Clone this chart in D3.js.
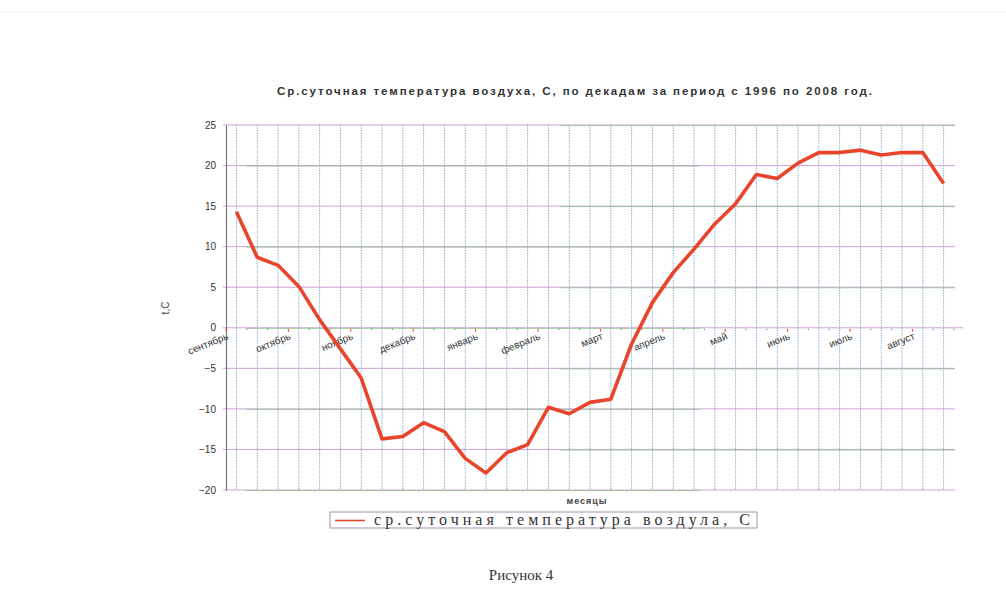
<!DOCTYPE html>
<html>
<head>
<meta charset="utf-8">
<script src="https://cdn.jsdelivr.net/npm/d3@7"></script>
<style>
  html, body { margin: 0; padding: 0; background: #ffffff; }
  svg { display: block; }
</style>
</head>
<body>
<svg id="chart" width="1006" height="599"></svg>
<script>
// ---- data ----
const months = ["сентябрь","октябрь","ноябрь","декабрь","январь","февраль","март","апрель","май","июнь","июль","август"];
const temps = [14.3, 8.7, 7.7, 5.1, 1.0, -2.6, -6.2, -13.7, -13.4, -11.7, -12.8, -16.1, -17.9, -15.4, -14.4, -9.8, -10.6, -9.2, -8.8, -2.0, 3.1, 6.8, 9.7, 12.8, 15.3, 18.9, 18.4, 20.3, 21.6, 21.6, 21.9, 21.3, 21.6, 21.6, 17.8];
const yTicks = [25, 20, 15, 10, 5, 0, -5, -10, -15, -20];
const titleText = "Ср.суточная температура воздуха,  С, по декадам за период с 1996 по 2008 год.";
const legendText = "ср.суточная температура воздула,  С";
const xTitle = "месяцы";
const yTitle = "t,C";
const caption = "Рисунок 4";

// ---- layout ----
const svg = d3.select("#chart");
const pLeft = 226, pRight = 954, pTop = 125, pBottom = 490;
const idx = d3.range(temps.length);
const x = d3.scaleBand().domain(idx).range([pLeft, pRight]);
const xc = i => x(i) + x.bandwidth() / 2;
const y = d3.scaleLinear().domain([-20, 25]).range([pBottom, pTop]);

// faint page edge from the scan
svg.append("line").attr("x1", 0).attr("x2", 1006).attr("y1", 12).attr("y2", 12)
  .attr("stroke", "#ececec").attr("stroke-width", 1);

// title
svg.append("text").attr("x", 277).attr("y", 95)
  .attr("textLength", 595).attr("lengthAdjust", "spacing")
  .attr("font-family", "Liberation Sans, Arial, sans-serif")
  .attr("font-size", 11.5).attr("font-weight", "bold").attr("fill", "#333")
  .text(titleText);

// vertical dotted gridlines at category centres
svg.append("g").selectAll("line").data(idx).join("line")
  .attr("x1", d => xc(d)).attr("x2", d => xc(d))
  .attr("y1", pTop).attr("y2", pBottom)
  .attr("stroke", "#8db6d6").attr("stroke-width", 1)
  .attr("stroke-dasharray", "1.5,1");

// horizontal gridlines (purple/green mix as in the scan)
const hg = svg.append("g");
hg.selectAll("line.p").data(yTicks).join("line").attr("class", "p")
  .attr("x1", pLeft - 3).attr("x2", d => d === 0 ? 963 : 955)
  .attr("y1", d => y(d)).attr("y2", d => y(d))
  .attr("stroke", "#c58ad6").attr("stroke-width", 1).attr("opacity", 0.8);
hg.selectAll("line.g").data(yTicks).join("line").attr("class", "g")
  .attr("x1", d => (d % 10 === 0) ? pLeft + 20 : 560).attr("x2", d => (d % 10 === 0) ? 700 : 955)
  .attr("y1", d => y(d) + 0.6).attr("y2", d => y(d) + 0.6)
  .attr("stroke", "#84c47e").attr("stroke-width", 1).attr("opacity", 0.7);

// y axis
const yAxis = d3.axisLeft(y).tickValues(yTicks).tickSize(0).tickPadding(10);
const ya = svg.append("g").attr("transform", `translate(${pLeft},0)`).call(yAxis);
ya.select(".domain").attr("stroke", "#777").attr("stroke-width", 1.2);
ya.selectAll("text").attr("font-family", "Liberation Sans, Arial, sans-serif")
  .attr("font-size", 10).attr("fill", "#333");

// ticks on the zero line
const boundaries = d3.range(temps.length + 1);
svg.append("g").selectAll("line").data(boundaries).join("line")
  .attr("x1", d => pLeft + d * x.bandwidth()).attr("x2", d => pLeft + d * x.bandwidth())
  .attr("y1", y(0) + 1).attr("y2", d => y(0) + (d % 3 === 0 ? 4 : 2))
  .attr("stroke", d => d % 3 === 0 ? "#e0453a" : "#555")
  .attr("stroke-width", 1);

// month labels
svg.append("g").selectAll("text").data(months).join("text")
  .attr("transform", (d, k) => `translate(${pLeft + 3 * k * x.bandwidth() + 3},${y(0) + 11}) rotate(-22)`)
  .attr("text-anchor", "end")
  .attr("font-family", "Liberation Sans, Arial, sans-serif")
  .attr("font-size", 10).attr("fill", "#333")
  .text(d => d);

// data line
const line = d3.line().x((d, i) => xc(i)).y(d => y(d));
svg.append("path").datum(temps)
  .attr("d", line)
  .attr("fill", "none").attr("stroke", "#e8452c")
  .attr("stroke-width", 3.6).attr("stroke-linejoin", "round");

// axis titles
svg.append("text").attr("x", 587).attr("y", 504).attr("text-anchor", "middle")
  .attr("font-family", "Liberation Sans, Arial, sans-serif")
  .attr("font-size", 9).attr("font-weight", "bold").attr("fill", "#444")
  .attr("letter-spacing", 1)
  .text(xTitle);
svg.append("text").attr("transform", "translate(169,308) rotate(-90)")
  .attr("text-anchor", "middle")
  .attr("font-family", "Liberation Sans, Arial, sans-serif")
  .attr("font-size", 10).attr("fill", "#444")
  .text(yTitle);

// legend
const lg = svg.append("g");
lg.append("rect").attr("x", 330).attr("y", 512).attr("width", 427).attr("height", 16)
  .attr("fill", "#fff").attr("stroke", "#a48fb0").attr("stroke-width", 1);
lg.append("line").attr("x1", 335).attr("x2", 365).attr("y1", 520.5).attr("y2", 520.5)
  .attr("stroke", "#e8452c").attr("stroke-width", 1.6);
lg.append("text").attr("x", 374).attr("y", 525)
  .attr("textLength", 376).attr("lengthAdjust", "spacing")
  .attr("font-family", "Liberation Serif, Times New Roman, serif")
  .attr("font-size", 16).attr("fill", "#333")
  .text(legendText);

// caption
svg.append("text").attr("x", 521).attr("y", 580).attr("text-anchor", "middle")
  .attr("font-family", "Liberation Serif, Times New Roman, serif")
  .attr("font-size", 15).attr("fill", "#333")
  .text(caption);
</script>
</body>
</html>
